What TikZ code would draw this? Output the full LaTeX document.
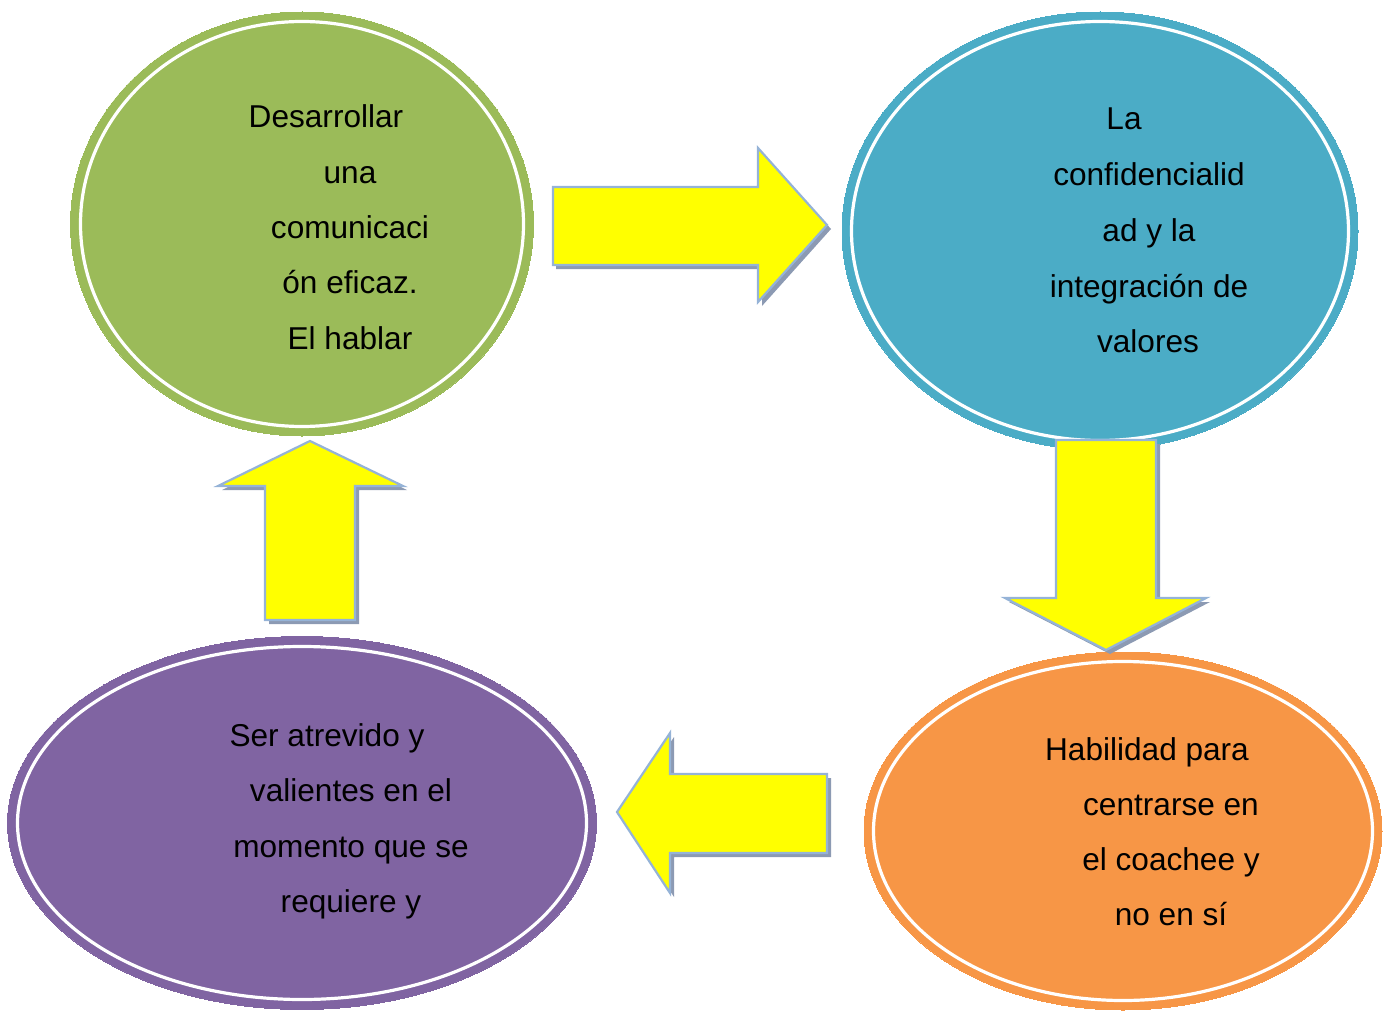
\documentclass[tikz,border=0pt]{standalone}
\usepackage{fontspec}
\setmainfont{Liberation Sans}
\usetikzlibrary{shapes.geometric}
\definecolor{cgreen}{HTML}{9BBB59}
\definecolor{cblue}{HTML}{4BACC6}
\definecolor{corange}{HTML}{F79646}
\definecolor{cpurple}{HTML}{8064A2}
\definecolor{arrowedge}{HTML}{95B3D7}
\definecolor{arrowshadow}{HTML}{8C9AB3}
\definecolor{ayellow}{RGB}{255,255,0}
\tikzset{
  bubble/.style={ellipse, draw=#1, fill=#1, line width=0pt, inner sep=0pt},
  blockarrow/.style={fill=ayellow, draw=arrowedge, line width=2.2pt, line join=miter},
  arrowshade/.style={fill=arrowshadow, draw=none},
  txt/.style={font=\fontsize{31.6}{36}\selectfont, text=black, inner sep=0pt, anchor=base}
}
\begin{document}
\begin{tikzpicture}[x=1pt,y=-1pt]
\useasboundingbox (0,0) rectangle (1387,1011);
% ellipses
\node[bubble=cgreen, minimum width=463pt, minimum height=424pt] (green) at (302,224) {};
\node[bubble=cblue, minimum width=516pt, minimum height=438pt] (blue) at (1100,231) {};
\node[bubble=corange, minimum width=518pt, minimum height=358pt] (orange) at (1123,831) {};
\node[bubble=cpurple, minimum width=589pt, minimum height=373pt] (purple) at (302,823) {};
\draw[white, line width=3.2pt] (green.center) ellipse [x radius=221.5, y radius=202.5];
\draw[white, line width=3.2pt] (blue.center) ellipse [x radius=248.5, y radius=209.5];
\draw[white, line width=3.2pt] (orange.center) ellipse [x radius=249.5, y radius=169.5];
\draw[white, line width=3.2pt] (purple.center) ellipse [x radius=284.5, y radius=176.5];
% arrows: right
\fill[arrowshade] (556,191) -- (762,191) -- (762,152) -- (831,229) -- (762,306) -- (762,269) -- (556,269) -- cycle;
\draw[blockarrow] (553,187) -- (758,187) -- (758,148) -- (827,225) -- (758,302) -- (758,265) -- (553,265) -- cycle;
% down
\fill[arrowshade] (1060,444) -- (1160,444) -- (1160,602) -- (1210,602) -- (1110,654) -- (1009,602) -- (1060,602) -- cycle;
\draw[blockarrow] (1056,440) -- (1156,440) -- (1156,598) -- (1206,598) -- (1106,650) -- (1005,598) -- (1056,598) -- cycle;
% left
\fill[arrowshade] (621,816) -- (674,737) -- (674,778) -- (831,778) -- (831,857) -- (674,857) -- (674,897) -- cycle;
\draw[blockarrow] (617,812) -- (670,733) -- (670,774) -- (827,774) -- (827,853) -- (670,853) -- (670,893) -- cycle;
% up
\fill[arrowshade] (314,445) -- (407,490) -- (359,490) -- (359,624) -- (269,624) -- (269,490) -- (222,490) -- cycle;
\draw[blockarrow] (310,441) -- (403,486) -- (355,486) -- (355,620) -- (265,620) -- (265,486) -- (218,486) -- cycle;
% texts green
\node[txt] (g1) at (326,128) {Desarrollar};
\node[txt] (g2) at (350,184) {una};
\node[txt] (g3) at (350,239) {comunicaci};
\node[txt] (g4) at (350,294) {ón eficaz.};
\node[txt] (g5) at (350,349) {El hablar};
% texts blue
\node[txt] (b1) at (1124,130) {La};
\node[txt] (b2) at (1149,186) {confidencialid};
\node[txt] (b3) at (1149,241) {ad y la};
\node[txt] (b4) at (1149,297) {integración de};
\node[txt] (b5) at (1148,352) {valores};
% texts orange
\node[txt] (o1) at (1147,760) {Habilidad para};
\node[txt] (o2) at (1171,815) {centrarse en};
\node[txt] (o3) at (1171,870) {el coachee y};
\node[txt] (o4) at (1171,925) {no en sí};
% texts purple
\node[txt] (p1) at (327,746) {Ser atrevido y};
\node[txt] (p2) at (351,801) {valientes en el};
\node[txt] (p3) at (351,857) {momento que se};
\node[txt] (p4) at (351,912) {requiere y};
\end{tikzpicture}
\end{document}
